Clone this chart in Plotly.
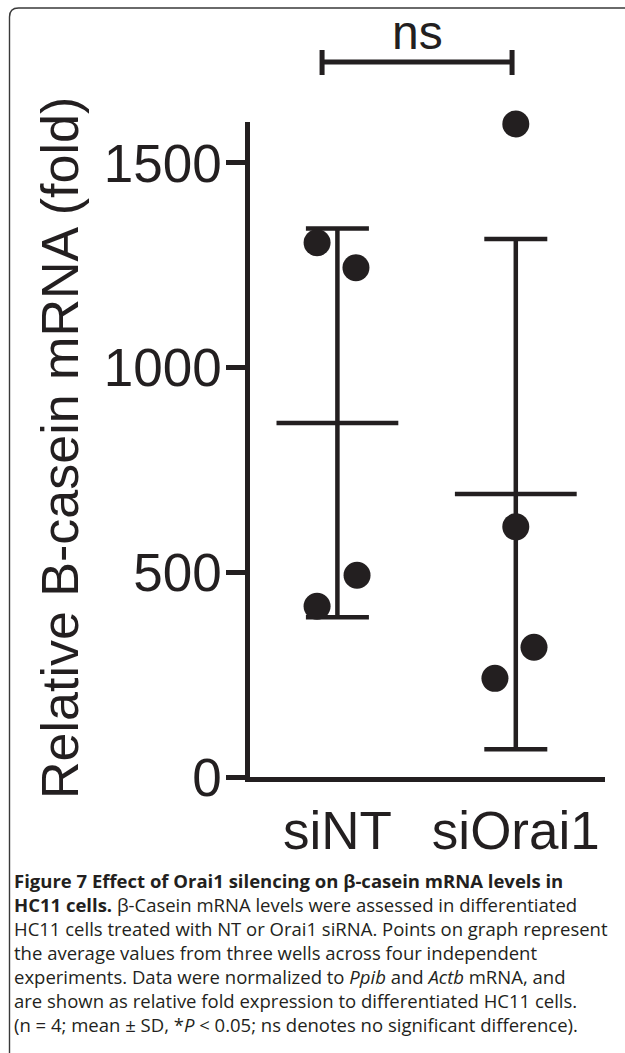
import numpy as np
import plotly.graph_objects as go

# ---------------- data ----------------
categories = ["siNT", "siOrai1"]
sint_values = [1305, 1244, 493, 417]
siorai1_values = [1595, 611, 317, 241]
sint_jitter = [-0.114, 0.104, 0.11, -0.114]
siorai1_jitter = [0.0, 0.0, 0.102, -0.117]
y_tick_values = [0, 500, 1000, 1500]
y_tick_labels = ["0", "500", "1000", "1500"]
y_title = "Relative B-casein mRNA (fold)"
sig_label = "ns"
caption_lines = [
    "<b>Figure 7 Effect of Orai1 silencing on β-casein mRNA levels in</b>",
    "<b>HC11 cells.</b> β-Casein mRNA levels were assessed in differentiated",
    "HC11 cells treated with NT or Orai1 siRNA. Points on graph represent",
    "the average values from three wells across four independent",
    "experiments. Data were normalized to <i>Ppib</i> and <i>Actb</i> mRNA, and",
    "are shown as relative fold expression to differentiated HC11 cells.",
    "(n = 4; mean ± SD, *<i>P</i> &lt; 0.05; ns denotes no significant difference).",
]

groups = [sint_values, siorai1_values]
jitters = [sint_jitter, siorai1_jitter]

INK = "#231f20"
AXFONT = "Liberation Sans, Arial, Helvetica, sans-serif"

W, H = 625, 1053
ML, MR, MT, MB = 250, 20, 122, 276
PW, PH = W - ML - MR, H - MT - MB


def px_x(px):
    return (px - ML) / PW


def px_y(py):
    return (H - MB - py) / PH


fig = go.Figure()

# mean +- SD
means = [float(np.mean(g)) for g in groups]
sds = [float(np.std(g, ddof=1)) for g in groups]
fig.add_trace(go.Scatter(
    x=list(range(len(categories))), y=means,
    mode="markers",
    marker=dict(symbol="line-ew", size=87, color=INK,
                line=dict(width=4.5, color=INK)),
    error_y=dict(type="data", array=sds, visible=True,
                 color=INK, thickness=4.5, width=31.5),
    cliponaxis=False, hoverinfo="skip", showlegend=False,
))

# individual points
for i, (vals, jit) in enumerate(zip(groups, jitters)):
    fig.add_trace(go.Scatter(
        x=[i + j for j in jit], y=vals,
        mode="markers",
        marker=dict(symbol="circle", size=27, color=INK, line=dict(width=0)),
        cliponaxis=False, showlegend=False,
    ))

# significance bracket
bx0, bx1 = -0.086, 0.979
by, bt, bb = px_y(62), px_y(50), px_y(75)
fig.add_shape(type="path", xref="x", yref="paper",
              path=f"M {bx0},{bt} L {bx0},{bb} M {bx0},{by} L {bx1},{by} "
                   f"M {bx1},{bt} L {bx1},{bb}",
              line=dict(color=INK, width=5))
fig.add_annotation(x=0.45, xref="x", y=px_y(32), yref="paper",
                   text=sig_label, showarrow=False,
                   xanchor="center", yanchor="middle",
                   font=dict(family=AXFONT, size=48, color=INK))

# y axis title
fig.add_annotation(x=px_x(60), xref="paper", y=px_y(448), yref="paper",
                   text=y_title, textangle=-90, showarrow=False,
                   xanchor="center", yanchor="middle",
                   font=dict(family=AXFONT, size=52, color=INK))

# frame with rounded corner
r = 9
lx, ty = 9.5, 8
fig.add_shape(type="path", xref="paper", yref="paper",
              path=(f"M {px_x(lx)},{px_y(H + 10)} L {px_x(lx)},{px_y(ty + r)} "
                    f"Q {px_x(lx)},{px_y(ty)} {px_x(lx + r)},{px_y(ty)} "
                    f"L {px_x(W + 10)},{px_y(ty)}"),
              line=dict(color="#3a3a3a", width=1.4))

# caption, one annotation per line
line_top, line_pitch = 880, 24.1
for k, line in enumerate(caption_lines):
    fig.add_annotation(x=px_x(12), xref="paper",
                       y=px_y(line_top + k * line_pitch), yref="paper",
                       text=line, showarrow=False, align="left",
                       xanchor="left", yanchor="middle",
                       font=dict(family="Open Sans, sans-serif", size=18.5, color=INK))

fig.update_layout(
    width=W, height=H,
    margin=dict(l=ML, r=MR, t=MT, b=MB, pad=0),
    paper_bgcolor="white", plot_bgcolor="white",
    showlegend=False,
    font=dict(family=AXFONT, color=INK),
    xaxis=dict(
        range=[-0.49, 1.5], tickmode="array",
        tickvals=list(range(len(categories))), ticktext=categories,
        showgrid=False, zeroline=False, showline=True,
        linecolor=INK, linewidth=4.5, ticks="",
        ticklabelstandoff=4,
        tickfont=dict(family=AXFONT, size=53, color=INK),
        fixedrange=True,
    ),
    yaxis=dict(
        range=[0, 1600], tickmode="array",
        tickvals=y_tick_values, ticktext=y_tick_labels,
        showgrid=False, zeroline=False, showline=True,
        linecolor=INK, linewidth=4.5,
        ticks="outside", ticklen=19, tickwidth=4.5, tickcolor=INK,
        ticklabelstandoff=-6,
        tickfont=dict(family=AXFONT, size=53, color=INK),
        fixedrange=True,
    ),
)

fig.write_html("out.html", config={"displayModeBar": False},
               post_script="document.body.style.margin='0';")
